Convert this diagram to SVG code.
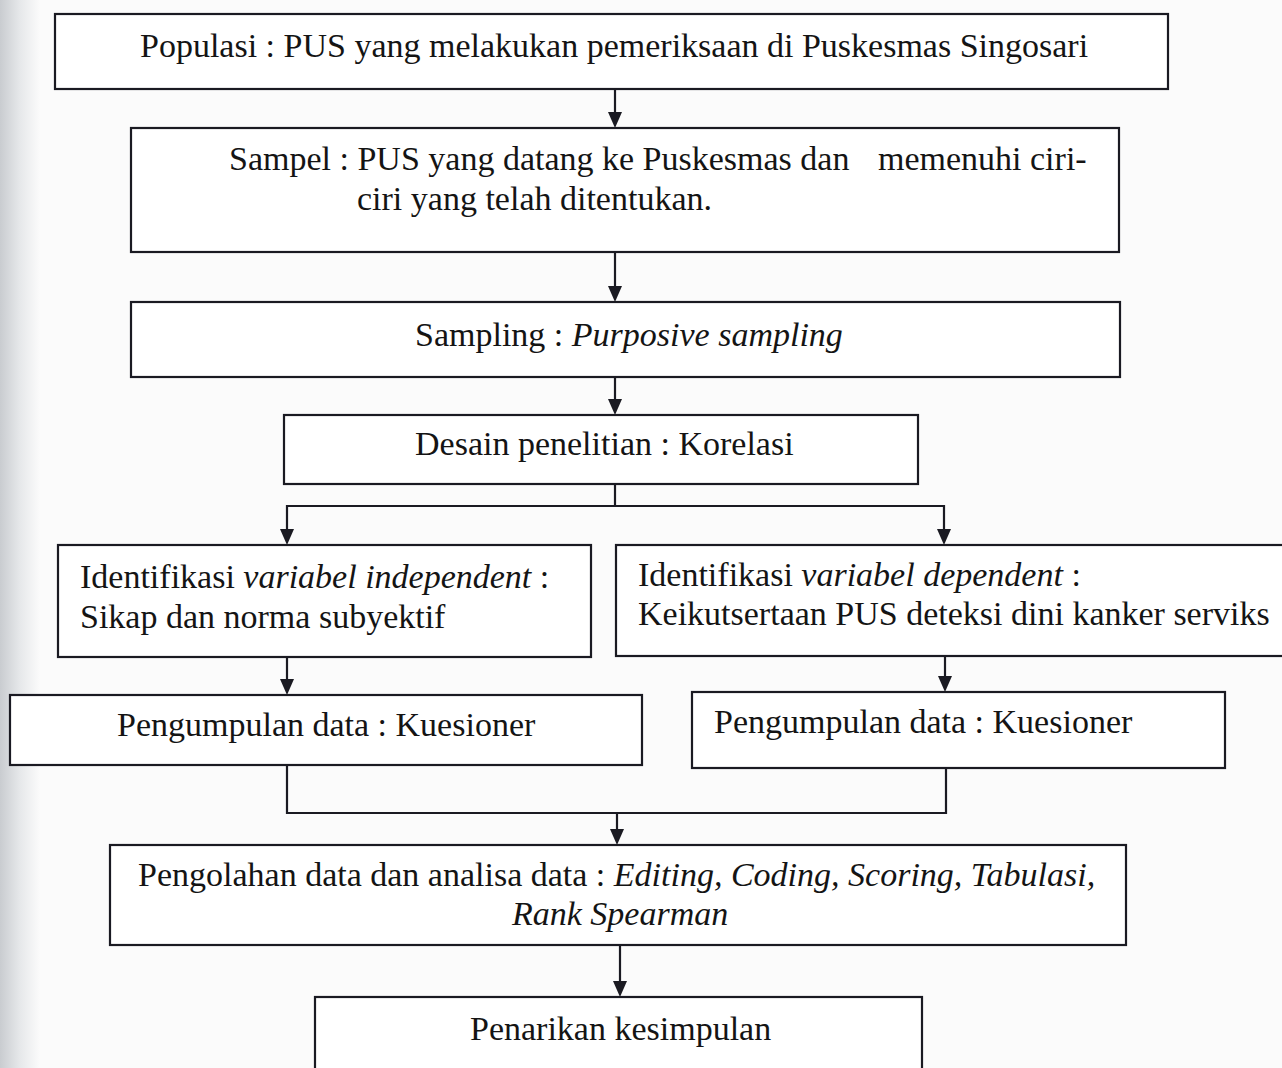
<svg xmlns="http://www.w3.org/2000/svg" width="1282" height="1068" viewBox="0 0 1282 1068">
<style>
.box{fill:#fff;stroke:#1a1a22;stroke-width:2.2}
.t{font-family:"Liberation Serif","Times New Roman",serif;font-size:34px;fill:#141414}
.i{font-style:italic}
.c{fill:none;stroke:#1a1a22;stroke-width:2.2}
.ah{fill:#1a1a22}
</style>
<defs>
<linearGradient id="scan" x1="0" y1="0" x2="1" y2="0">
<stop offset="0" stop-color="#c9ccd0"/>
<stop offset="0.5" stop-color="#e6e8ea"/>
<stop offset="1" stop-color="#fbfbfb"/>
</linearGradient>
</defs>
<rect width="1282" height="1068" fill="#fbfbfb"/>
<rect x="0" y="0" width="40" height="1068" fill="url(#scan)"/>

<g id="connectors">
<line class="c" x1="615" y1="89" x2="615" y2="112"/>
<path class="ah" d="M608,112 L622,112 L615,128 Z"/>
<line class="c" x1="615" y1="252" x2="615" y2="286"/>
<path class="ah" d="M608,286 L622,286 L615,302 Z"/>
<line class="c" x1="615" y1="377" x2="615" y2="399"/>
<path class="ah" d="M608,399 L622,399 L615,415 Z"/>
<polyline class="c" points="615,484 615,506"/>
<polyline class="c" points="287,529 287,506 944,506 944,529"/>
<path class="ah" d="M280,529 L294,529 L287,545 Z"/>
<path class="ah" d="M937,529 L951,529 L944,545 Z"/>
<line class="c" x1="287" y1="657" x2="287" y2="679"/>
<path class="ah" d="M280,679 L294,679 L287,695 Z"/>
<line class="c" x1="945" y1="656" x2="945" y2="676"/>
<path class="ah" d="M938,676 L952,676 L945,692 Z"/>
<polyline class="c" points="287,765 287,813 946,813 946,768"/>
<line class="c" x1="617" y1="813" x2="617" y2="829"/>
<path class="ah" d="M610,829 L624,829 L617,845 Z"/>
<line class="c" x1="620" y1="945" x2="620" y2="981"/>
<path class="ah" d="M613,981 L627,981 L620,997 Z"/>
</g>

<g id="populasi">
<rect class="box" x="55" y="14" width="1113" height="75"/>
<text class="t" x="140" y="57">Populasi : PUS yang melakukan pemeriksaan di Puskesmas Singosari</text>
</g>

<g id="sampel">
<rect class="box" x="131" y="128" width="988" height="124"/>
<text class="t" x="229" y="170">Sampel : PUS yang datang ke Puskesmas dan</text>
<text class="t" x="878" y="170">memenuhi ciri-</text>
<text class="t" x="357" y="210">ciri yang telah ditentukan.</text>
</g>

<g id="sampling">
<rect class="box" x="131" y="302" width="989" height="75"/>
<text class="t" x="415" y="346">Sampling : <tspan class="i">Purposive sampling</tspan></text>
</g>

<g id="desain">
<rect class="box" x="284" y="415" width="634" height="69"/>
<text class="t" x="415" y="455">Desain penelitian : Korelasi</text>
</g>

<g id="var-independent">
<rect class="box" x="58" y="545" width="533" height="112"/>
<text class="t" x="80" y="588">Identifikasi <tspan class="i">variabel independent</tspan> :</text>
<text class="t" x="80" y="628">Sikap dan norma subyektif</text>
</g>

<g id="var-dependent">
<rect class="box" x="616" y="545" width="680" height="111"/>
<text class="t" x="638" y="586">Identifikasi <tspan class="i">variabel dependent</tspan> :</text>
<text class="t" x="638" y="625">Keikutsertaan PUS deteksi dini kanker serviks</text>
</g>

<g id="pengumpulan-1">
<rect class="box" x="10" y="695" width="632" height="70"/>
<text class="t" x="117" y="736">Pengumpulan data : Kuesioner</text>
</g>

<g id="pengumpulan-2">
<rect class="box" x="692" y="692" width="533" height="76"/>
<text class="t" x="714" y="733">Pengumpulan data : Kuesioner</text>
</g>

<g id="pengolahan">
<rect class="box" x="110" y="845" width="1016" height="100"/>
<text class="t" x="138" y="886">Pengolahan data dan analisa data : <tspan class="i">Editing, Coding, Scoring, Tabulasi,</tspan></text>
<text class="t i" x="512" y="925">Rank Spearman</text>
</g>

<g id="kesimpulan">
<rect class="box" x="315" y="997" width="607" height="90"/>
<text class="t" x="470" y="1040">Penarikan kesimpulan</text>
</g>
</svg>
